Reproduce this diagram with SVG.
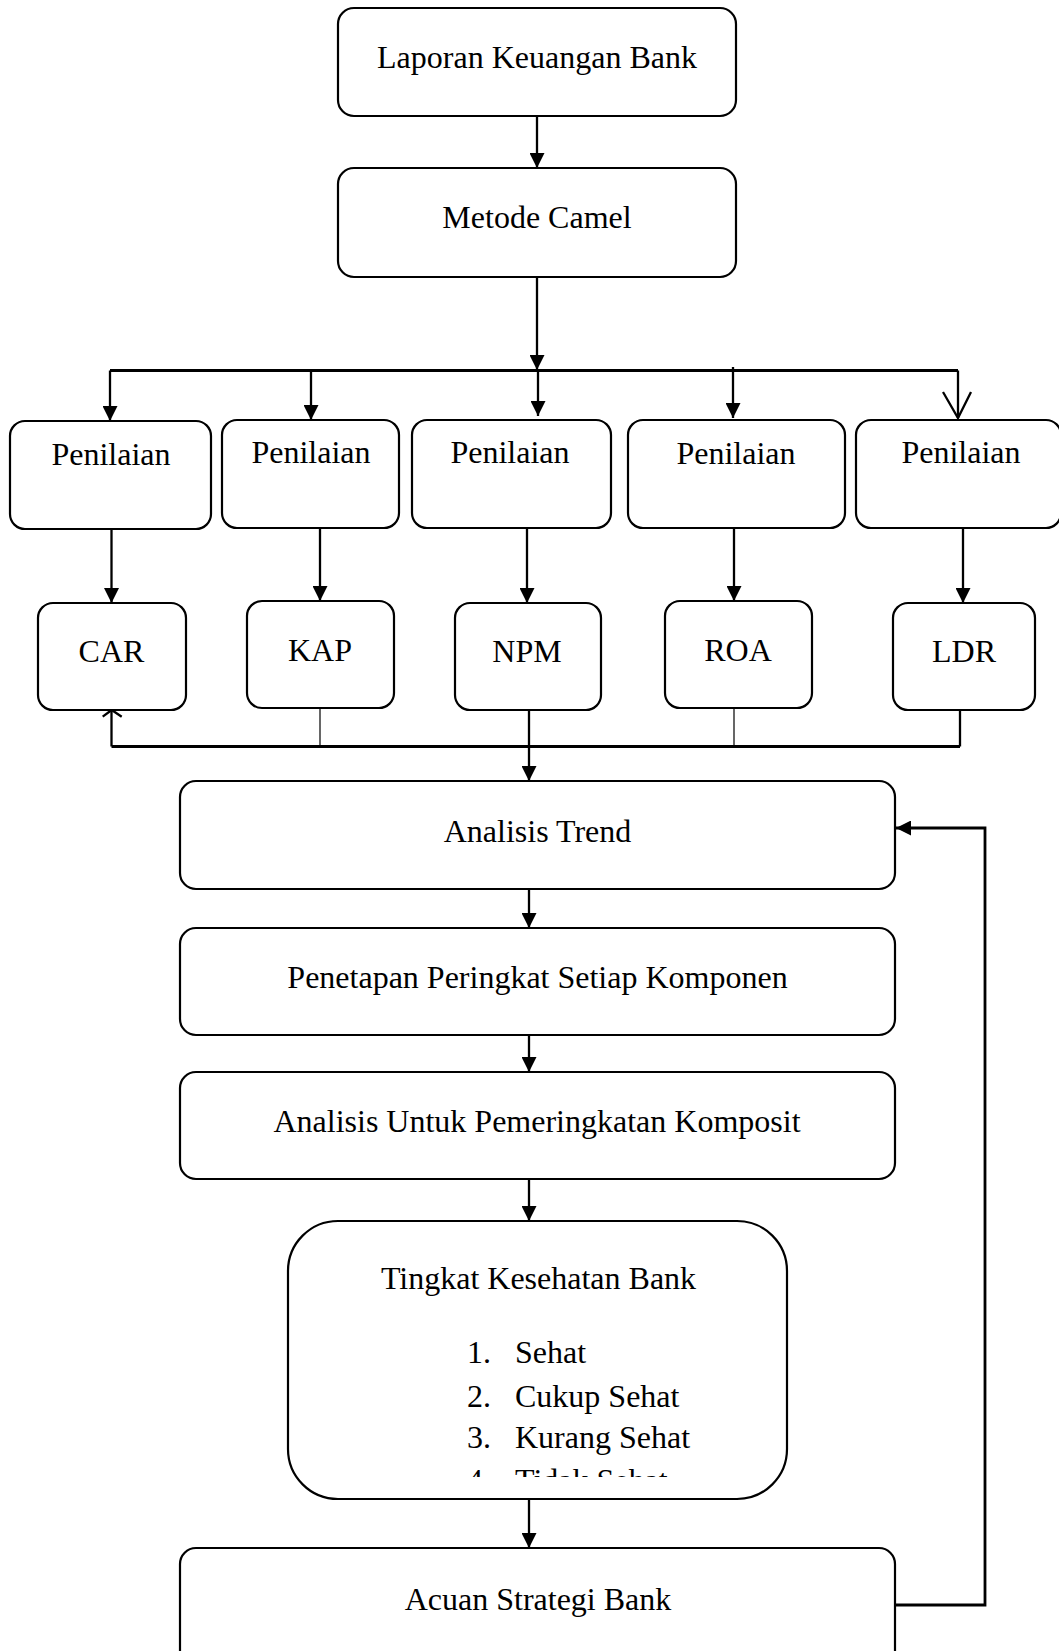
<svg xmlns="http://www.w3.org/2000/svg" width="1059" height="1651" viewBox="0 0 1059 1651">
<style>
.box{fill:#fff;stroke:#000;stroke-width:2.2}
.t{font-family:"Liberation Serif","Times New Roman",serif;font-size:32px;fill:#000}
.c{text-anchor:middle}
.ln{fill:none;stroke:#000;stroke-width:2.3}
.thk{fill:none;stroke:#000;stroke-width:2.8}
.thin{fill:none;stroke:#000;stroke-width:1.2}
</style>
<defs>
<marker id="ah" markerWidth="15" markerHeight="15" viewBox="0 0 15 15" refX="15" refY="7.5" orient="auto" markerUnits="userSpaceOnUse">
<path d="M0,0 L15,7.5 L0,15 Z" fill="#000"/>
</marker>
<clipPath id="clipList"><rect x="290" y="1230" width="495" height="247"/></clipPath>
</defs>
<rect width="1059" height="1651" fill="#fff"/>

<g id="connectors">
<path class="ln" d="M537,116 V168" marker-end="url(#ah)"/>
<path class="ln" d="M537,277 V370" marker-end="url(#ah)"/>
<path class="thk" d="M110,370.5 H958"/>
<path class="ln" d="M110,370.5 V421" marker-end="url(#ah)"/>
<path class="ln" d="M311,370.5 V420" marker-end="url(#ah)"/>
<path class="ln" d="M538,370.5 V416" marker-end="url(#ah)"/>
<path class="ln" d="M733,367 V418" marker-end="url(#ah)"/>
<path class="ln" d="M958,370.5 V418"/>
<path class="ln" d="M943,392 L958,418 L971,392"/>
<path class="ln" d="M111.5,529 V603" marker-end="url(#ah)"/>
<path class="ln" d="M320,528 V601" marker-end="url(#ah)"/>
<path class="ln" d="M527,528 V603" marker-end="url(#ah)"/>
<path class="ln" d="M734,528 V601" marker-end="url(#ah)"/>
<path class="ln" d="M963,528 V603" marker-end="url(#ah)"/>
<path class="thk" d="M111.5,746.5 H960"/>
<path class="ln" d="M111.5,746.5 V710"/>
<path class="ln" d="M102.7,716.7 L111.7,710 L121.7,716.7"/>
<path class="thin" d="M320,708 V746.5"/>
<path class="thin" d="M734,708 V746.5"/>
<path class="ln" d="M960,710 V746.5"/>
<path class="ln" d="M529,710 V781" marker-end="url(#ah)"/>
<path class="ln" d="M529,889 V928" marker-end="url(#ah)"/>
<path class="ln" d="M529,1035 V1072" marker-end="url(#ah)"/>
<path class="ln" d="M529,1179 V1221" marker-end="url(#ah)"/>
<path class="ln" d="M529,1499 V1548" marker-end="url(#ah)"/>
<path class="thk" d="M895,1605 H985 V828 H896" marker-end="url(#ah)"/>
</g>

<g id="laporan"><rect class="box" x="338" y="8" width="398" height="108" rx="16"/><text class="t c" x="537" y="68">Laporan Keuangan Bank</text></g>
<g id="metode"><rect class="box" x="338" y="168" width="398" height="109" rx="16"/><text class="t c" x="537" y="228">Metode Camel</text></g>

<g id="penilaian1"><rect class="box" x="10" y="421" width="201" height="108" rx="15"/><text class="t c" x="111" y="465">Penilaian</text></g>
<g id="penilaian2"><rect class="box" x="222" y="420" width="177" height="108" rx="15"/><text class="t c" x="311" y="463">Penilaian</text></g>
<g id="penilaian3"><rect class="box" x="412" y="420" width="199" height="108" rx="15"/><text class="t c" x="510" y="463">Penilaian</text></g>
<g id="penilaian4"><rect class="box" x="628" y="420" width="217" height="108" rx="15"/><text class="t c" x="736" y="464">Penilaian</text></g>
<g id="penilaian5"><rect class="box" x="856" y="420" width="205" height="108" rx="15"/><text class="t c" x="961" y="463">Penilaian</text></g>

<g id="car"><rect class="box" x="38" y="603" width="148" height="107" rx="15"/><text class="t c" x="111.5" y="662">CAR</text></g>
<g id="kap"><rect class="box" x="247" y="601" width="147" height="107" rx="15"/><text class="t c" x="320" y="661">KAP</text></g>
<g id="npm"><rect class="box" x="455" y="603" width="146" height="107" rx="15"/><text class="t c" x="527" y="662">NPM</text></g>
<g id="roa"><rect class="box" x="665" y="601" width="147" height="107" rx="15"/><text class="t c" x="738" y="661">ROA</text></g>
<g id="ldr"><rect class="box" x="893" y="603" width="142" height="107" rx="15"/><text class="t c" x="964" y="662">LDR</text></g>

<g id="trend"><rect class="box" x="180" y="781" width="715" height="108" rx="16"/><text class="t c" x="537.5" y="842">Analisis Trend</text></g>
<g id="penetapan"><rect class="box" x="180" y="928" width="715" height="107" rx="16"/><text class="t c" x="537.5" y="988">Penetapan Peringkat Setiap Komponen</text></g>
<g id="komposit"><rect class="box" x="180" y="1072" width="715" height="107" rx="16"/><text class="t c" x="537" y="1132">Analisis Untuk Pemeringkatan Komposit</text></g>

<g id="tingkat"><rect class="box" x="288" y="1221" width="499" height="278" rx="50"/>
<text class="t c" x="538.5" y="1289">Tingkat Kesehatan Bank</text>
<g clip-path="url(#clipList)">
<text class="t" x="467" y="1363">1.</text><text class="t" x="515" y="1363">Sehat</text>
<text class="t" x="467" y="1407">2.</text><text class="t" x="515" y="1407">Cukup Sehat</text>
<text class="t" x="467" y="1448">3.</text><text class="t" x="515" y="1448">Kurang Sehat</text>
<text class="t" x="467" y="1491">4.</text><text class="t" x="515" y="1491">Tidak Sehat</text>
</g>
</g>

<g id="acuan"><rect class="box" x="180" y="1548" width="715" height="120" rx="16"/><text class="t c" x="538" y="1610">Acuan Strategi Bank</text></g>
</svg>
